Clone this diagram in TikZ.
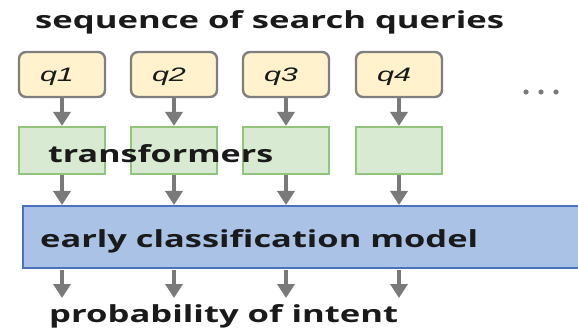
\documentclass[tikz,border=0pt]{standalone}
\usepackage{fontspec}
\setmainfont{Open Sans}
\newfontfamily\qfont{Liberation Sans}
\usetikzlibrary{arrows.meta}
\definecolor{qfill}{HTML}{FFF2CC}
\definecolor{qdraw}{HTML}{7F7F7F}
\definecolor{tfill}{HTML}{D9EAD3}
\definecolor{tdraw}{HTML}{93C47D}
\definecolor{mfill}{HTML}{A9C2E6}
\definecolor{mdraw}{HTML}{4A72C0}
\definecolor{arr}{HTML}{7A7A7A}
\definecolor{txt}{HTML}{1A1A1A}
% stretch a text horizontally so that it is exactly #1 wide
\newsavebox{\fitbox}
\newcommand{\fitwidth}[2]{%
  \sbox{\fitbox}{#2}%
  \pgfmathsetmacro{\fitfactor}{#1/\wd\fitbox}%
  \scalebox{\fitfactor}[1]{\usebox{\fitbox}}}
\begin{document}
\begin{tikzpicture}[x=1pt,y=-1pt,
  query/.style={draw=qdraw,fill=qfill,line width=2.4pt,rounded corners=7pt,minimum width=86pt,minimum height=45pt,inner sep=0pt},
  tbox/.style={draw=tdraw,fill=tfill,line width=2.2pt,minimum width=86pt,minimum height=47pt,inner sep=0pt},
  flow/.style={draw=arr,line width=4pt,-{Triangle[width=17pt,length=14pt]}},
  label/.style={font=\fontsize{23.5}{28}\selectfont\bfseries,text=txt,inner sep=0pt,anchor=base west},
  qlabel/.style={font=\qfont\itshape\fontsize{19.5}{22}\selectfont,text=txt,inner sep=0pt,anchor=base}]
\useasboundingbox (0,0) rectangle (578,331);
\node[label] (title) at (35,29) {\fitwidth{469pt}{sequence of search queries}};
\foreach \i/\x in {1/62,2/174,3/286,4/399}{
  \node[query] (q\i) at (\x,74.5) {};
  \node[qlabel] (ql\i) at ([xshift=-5pt,yshift=-7.5pt]q\i.center) {\fitwidth{34pt}{q\i}};
  \node[tbox] (t\i) at (\x,150.5) {};
  \coordinate (o\i) at (\x,298);
}
\node[draw=mdraw,fill=mfill,line width=2.4pt,minimum width=570pt,minimum height=62pt,inner sep=0pt,anchor=north west] (model) at (22,205) {};
\foreach \i in {1,...,4}{
  \draw[flow] (q\i) -- (t\i);
  \draw[flow] (t\i) -- (t\i |- model.north);
  \draw[flow] ([yshift=-1pt]t\i |- model.south) -- (o\i);
}
\node[label] (tr) at (48,163) {\fitwidth{225pt}{transformers}};
\node[label] (ecm) at (40,247) {\fitwidth{438pt}{early classification model}};
\node[label] (prob) at (49,322) {\fitwidth{349pt}{probability of intent}};
\foreach \x/\n in {526/a,541/b,556/c}
  \fill[arr] (\x,92) circle (2.6pt) coordinate (dot\n);
\end{tikzpicture}
\end{document}
